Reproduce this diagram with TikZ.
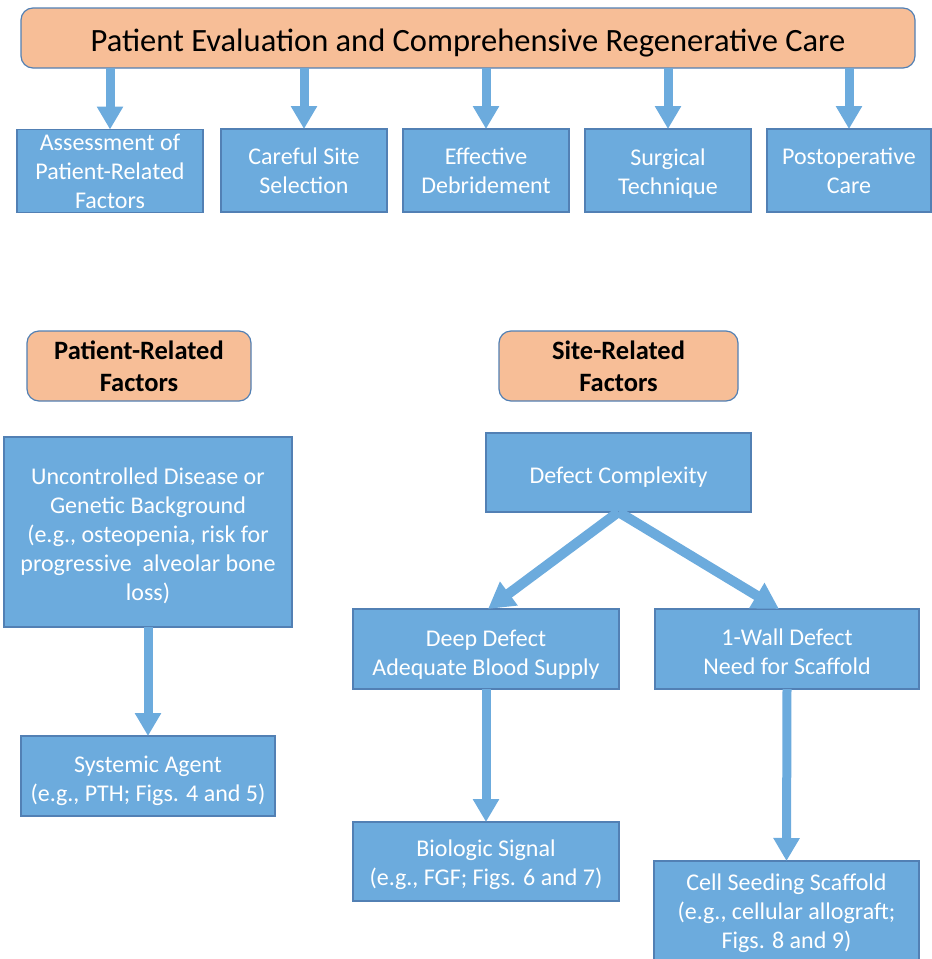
\documentclass[tikz,border=0pt]{standalone}
\usepackage{fontspec}
\setmainfont{Carlito}
\usetikzlibrary{arrows.meta,calc}
\definecolor{bfill}{RGB}{108,171,221}
\definecolor{bdraw}{RGB}{82,128,180}
\definecolor{ofill}{RGB}{247,190,151}
\definecolor{arrc}{RGB}{108,171,221}
\newcommand{\txtpad}[1]{\rule{0pt}{#1}}
\begin{document}
\begin{tikzpicture}[x=1pt,y=-1pt,
  bluebox/.style={draw=bdraw, line width=1.5pt, fill=bfill, text=white, align=center,
    inner sep=0pt, outer sep=0pt, font=\fontsize{24}{29}\selectfont},
  orbox/.style={draw=bdraw, line width=1.2pt, fill=ofill, rounded corners=12pt, align=center,
    inner sep=0pt, outer sep=0pt},
  arr/.style={draw=arrc, line width=9pt, -{Triangle[width=25pt,length=23pt]}},
  darr/.style={draw=arrc, line width=10pt, -{Triangle[width=28pt,length=26pt]}},
]
\useasboundingbox (0,0) rectangle (932,959);
\clip (0,0) rectangle (932,959);

% top
\node[orbox, minimum width=894pt, minimum height=60pt, font=\fontsize{32.5}{36}\selectfont]
  (top) at (468,38) {\txtpad{32pt}Patient Evaluation and Comprehensive Regenerative Care};

\node[bluebox, minimum width=186pt, minimum height=83pt] (a1) at (110,171)
  {Assessment of\\Patient-Related\\Factors};
\node[bluebox, minimum width=166pt, minimum height=83pt] (a2) at (304,170.5)
  {Careful Site\\Selection};
\node[bluebox, minimum width=166pt, minimum height=83pt] (a3) at (486,170.5)
  {Effective\\Debridement};
\node[bluebox, minimum width=166pt, minimum height=83pt] (a4) at (668,170.5)
  {\txtpad{22.5pt}Surgical\\Technique};
\node[bluebox, minimum width=164pt, minimum height=83pt] (a5) at (849,170.5)
  {Postoperative\\Care};

\foreach \n in {a1,a2,a3,a4,a5}
  \draw[arr] (top.south -| \n.north) -- (\n.north);

% patient side
\node[orbox, minimum width=224pt, minimum height=70pt, font=\bfseries\fontsize{26.5}{32}\selectfont]
  (prf) at (139,366) {Patient-Related\\Factors};
\node[bluebox, minimum width=288pt, minimum height=190pt] (unc) at (148,532)
  {\txtpad{25pt}Uncontrolled Disease or\\Genetic Background\\(e.g., osteopenia, risk for\\progressive~ alveolar bone\\loss)};
\node[bluebox, minimum width=254pt, minimum height=80pt] (sys) at (148,776)
  {\txtpad{27pt}Systemic Agent\\(e.g., PTH; Figs. 4 and 5)};
\draw[arr] (unc.south) -- (sys.north);

% site side
\node[orbox, minimum width=239pt, minimum height=70pt, font=\bfseries\fontsize{26.5}{32}\selectfont]
  (srf) at (618.5,366) {Site-Related\\Factors};
\node[bluebox, minimum width=265pt, minimum height=79pt] (def) at (618.5,472.5)
  {\txtpad{26.6pt}Defect Complexity};
\node[bluebox, minimum width=266pt, minimum height=80pt] (deep) at (486,649)
  {\txtpad{27pt}Deep Defect\\Adequate Blood Supply};
\node[bluebox, minimum width=264pt, minimum height=80pt] (wall) at (787,649)
  {\txtpad{23pt}1-Wall Defect\\Need for Scaffold};
\node[bluebox, minimum width=266pt, minimum height=79pt] (bio) at (486,861.5)
  {\txtpad{23pt}Biologic Signal\\(e.g., FGF; Figs. 6 and 7)};
\node[bluebox, minimum width=265pt, minimum height=105pt] (cell) at (786.5,913.5)
  {Cell Seeding Scaffold\\(e.g., cellular allograft;\\Figs. 8 and 9)};

\draw[darr] (def.south) -- ([xshift=2pt]deep.north);
\draw[darr] (def.south) -- ([xshift=-8pt]wall.north);
\draw[arr] (deep.south) -- (bio.north);
\draw[arr] (wall.south) -- (cell.north);
\end{tikzpicture}
\end{document}
